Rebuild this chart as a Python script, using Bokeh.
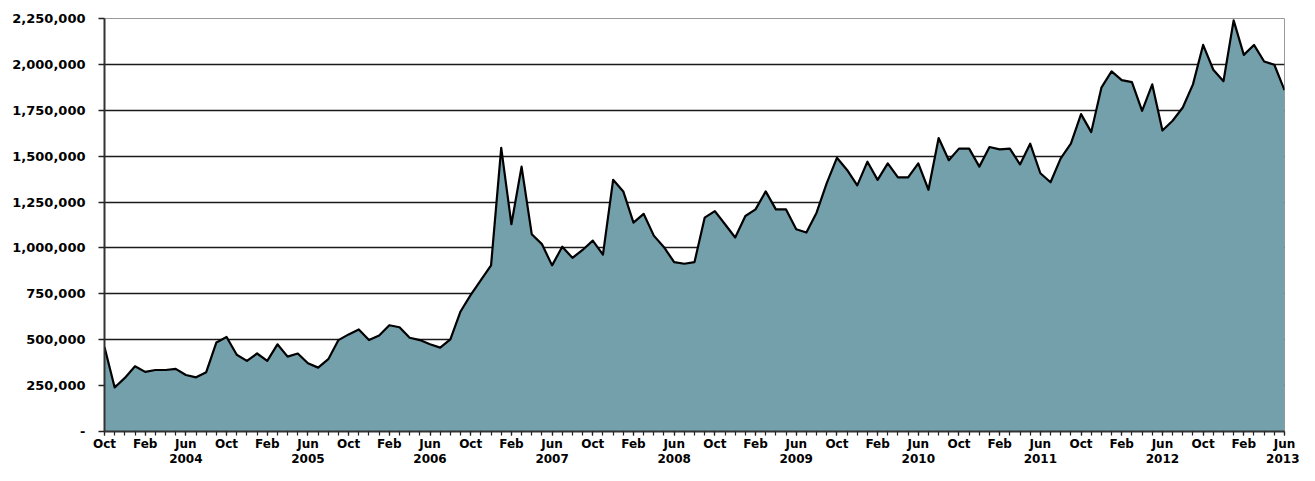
from bokeh.plotting import figure
from bokeh.models import Range1d, FixedTicker, LinearAxis
from bokeh.embed import file_html
from bokeh.resources import INLINE

# Monthly values, Oct 2003 .. Jun 2013
values = [
    460000, 240000, 292000, 355000, 325000, 335000, 335000, 341000, 308000, 295000,
    323000, 485000, 515000, 418000, 385000, 425000, 385000, 475000, 408000, 425000,
    372000, 348000, 394000, 498000, 529000, 556000, 498000, 523000, 579000, 568000,
    511000, 498000, 475000, 457000, 502000, 654000, 744000, 825000, 905000, 1545000,
    1129000, 1443000, 1075000, 1021000, 905000, 1007000, 946000, 989000, 1040000, 964000,
    1371000, 1308000, 1138000, 1186000, 1067000, 1004000, 923000, 914000, 923000, 1165000,
    1201000, 1129000, 1057000, 1174000, 1210000, 1308000, 1210000, 1210000, 1102000, 1084000,
    1192000, 1353000, 1491000, 1425000, 1341000, 1470000, 1371000, 1461000, 1384000, 1384000,
    1461000, 1317000, 1599000, 1478000, 1541000, 1541000, 1443000, 1550000, 1537000, 1541000,
    1455000, 1568000, 1407000, 1358000, 1488000, 1568000, 1729000, 1631000, 1873000, 1962000,
    1914000, 1903000, 1747000, 1891000, 1640000, 1693000, 1765000, 1891000, 2106000, 1971000,
    1908000, 2240000, 2052000, 2106000, 2016000, 1998000, 1860000,
]
month_cycle = ["Oct", "Feb", "Jun"]
year_labels = ["2004", "2005", "2006", "2007", "2008", "2009", "2010", "2011", "2012", "2013"]
y_ticks = [0, 250000, 500000, 750000, 1000000, 1250000, 1500000, 1750000, 2000000, 2250000]
y_tick_labels = ["-", "250,000", "500,000", "750,000", "1,000,000", "1,250,000",
                 "1,500,000", "1,750,000", "2,000,000", "2,250,000"]

n = len(values)
x = list(range(n))
month_ticks = list(range(0, n, 4))
month_overrides = {t: month_cycle[i % 3] for i, t in enumerate(month_ticks)}
year_ticks = list(range(8, n, 12))
year_overrides = {t: year_labels[i] for i, t in enumerate(year_ticks)}

FONT = "DejaVu Sans"

p = figure(width=1299, height=465, output_backend="svg", toolbar_location=None,
           x_range=Range1d(0, n - 1), y_range=Range1d(0, 2250000),
           min_border_left=104, min_border_right=15, min_border_top=18, min_border_bottom=33)
p.background_fill_color = "white"
p.border_fill_color = "white"
p.outline_line_color = "#9a9a9a"
p.outline_line_width = 1

p.varea(x=x, y1=0, y2=values, fill_color="#74A0AC")
p.line(x=x, y=values, line_color="black", line_width=2.2, line_join="round")

# grid
p.xgrid.visible = False
p.ygrid.ticker = FixedTicker(ticks=y_ticks)
p.ygrid.grid_line_color = "#1a1a1a"
p.ygrid.grid_line_width = 1.5

# y axis
ya = p.yaxis[0]
ya.ticker = FixedTicker(ticks=y_ticks)
ya.major_label_overrides = {t: l for t, l in zip(y_ticks, y_tick_labels)}
ya.major_label_text_font = FONT
ya.major_label_text_font_style = "bold"
ya.major_label_text_font_size = "13px"
ya.major_label_text_color = "black"
ya.major_tick_out = 6
ya.major_tick_in = 0
ya.minor_tick_out = 0
ya.minor_tick_in = 0
ya.major_tick_line_color = "#222222"
ya.major_tick_line_width = 1.5
ya.major_label_standoff = 13
ya.axis_line_color = "#333333"
ya.axis_line_width = 2

# x axis (months)
xa = p.xaxis[0]
xa.ticker = FixedTicker(ticks=month_ticks, minor_ticks=x)
xa.major_label_overrides = month_overrides
xa.major_label_text_font = FONT
xa.major_label_text_font_style = "bold"
xa.major_label_text_font_size = "12px"
xa.major_label_text_color = "black"
xa.major_tick_out = 4
xa.major_tick_in = 0
xa.minor_tick_out = 4
xa.minor_tick_in = 0
xa.major_tick_line_color = "#222222"
xa.minor_tick_line_color = "#222222"
xa.major_tick_line_width = 1.2
xa.minor_tick_line_width = 1.2
xa.major_label_standoff = 1
xa.axis_line_color = "#333333"
xa.axis_line_width = 2

# year axis
yr = LinearAxis(ticker=FixedTicker(ticks=year_ticks, minor_ticks=[]))
yr.major_label_overrides = year_overrides
yr.major_label_text_font = FONT
yr.major_label_text_font_style = "bold"
yr.major_label_text_font_size = "12px"
yr.major_label_text_color = "black"
yr.major_tick_out = 0
yr.major_tick_in = 0
yr.minor_tick_out = 0
yr.minor_tick_in = 0
yr.major_label_standoff = 0
yr.axis_line_color = None
yr.major_tick_line_color = None
yr.minor_tick_line_color = None
p.add_layout(yr, "below")

open("out.html", "w").write(file_html(p, INLINE))
